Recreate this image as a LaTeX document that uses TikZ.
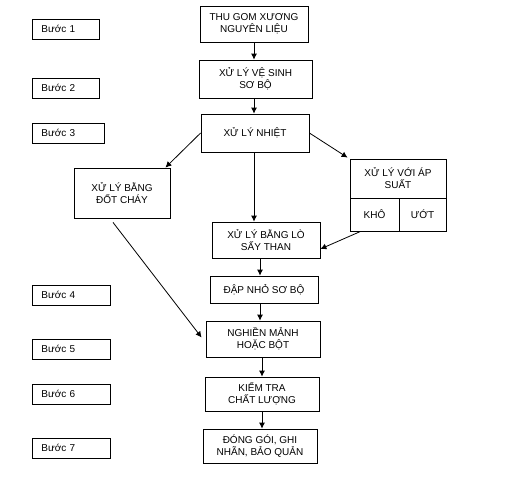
\documentclass[tikz,border=0pt]{standalone}
\usepackage{fontspec}
\setmainfont{Liberation Sans}
\usetikzlibrary{arrows.meta}

\begin{document}
\begin{tikzpicture}[x=1pt, y=-1pt, >={Latex[length=6pt,width=6pt]}]

\def\boxline{0.8pt};
\def\labelsepa{9pt};
\tikzset{stage box/.style={
    rectangle,
    draw,
    line width=\boxline,
    inner sep=0pt,
    align=center,
    font=\fontsize{10}{12}\selectfont
}};
\tikzset{step label/.style={
    stage box,
    anchor=north west,
    inner xsep=\labelsepa,
    align=left,
    minimum height=19.5pt
}};
\tikzset{flow/.style={->, line width=\boxline}};

\useasboundingbox (0,0) rectangle (505,485);

\foreach \i/\ty/\rx [evaluate=\rx as \tw using \rx-32-18] in {1/19/99, 2/78/99, 3/123/104, 4/285/110, 5/339/110, 6/384/110, 7/438/110} {
    \node[step label, text width=\tw pt] (step\i) at (32,\ty) {Bước \i};
}

\node[stage box, minimum width=108pt, minimum height=36pt] (collect) at (254,24) {THU GOM XƯƠNG\\NGUYÊN LIỆU};
\node[stage box, minimum width=113pt, minimum height=38pt] (clean) at (255.5,79) {XỬ LÝ VỆ SINH\\SƠ BỘ};
\node[stage box, minimum width=108pt, minimum height=38pt] (heat) at (255,133) {XỬ LÝ NHIỆT};
\node[stage box, minimum width=96pt, minimum height=50pt] (burn) at (122,193) {XỬ LÝ BẰNG\\ĐỐT CHÁY};
\node[stage box, minimum width=96pt, minimum height=39pt] (press) at (398,178.5) {XỬ LÝ VỚI ÁP\\SUẤT};
\node[stage box, minimum width=49pt, minimum height=33pt, text depth=-6pt] (dry) at (374.5,214.5) {KHÔ};
\node[stage box, minimum width=47pt, minimum height=33pt, text depth=-6pt] (wet) at (422.5,214.5) {ƯỚT};
\node[stage box, minimum width=108pt, minimum height=36pt] (kiln) at (266,240) {XỬ LÝ BẰNG LÒ\\SẤY THAN};
\node[stage box, minimum width=108pt, minimum height=27pt] (crush) at (264,289.5) {ĐẬP NHỎ SƠ BỘ};
\node[stage box, minimum width=114pt, minimum height=36pt] (grind) at (263,339) {NGHIỀN MẢNH\\HOẶC BỘT};
\node[stage box, minimum width=114pt, minimum height=34pt] (check) at (262,394) {KIỂM TRA\\CHẤT LƯỢNG};
\node[stage box, minimum width=114pt, minimum height=34pt] (pack) at (260,446) {ĐÓNG GÓI, GHI\\NHÃN, BẢO QUẢN};

\foreach \a/\b/\dx in {collect/clean/0, clean/heat/-1.5, heat/kiln/-1, kiln/crush/-6, crush/grind/-4, grind/check/-1, check/pack/0} {
    \draw[flow] ([xshift=\dx pt]\a.south) -- ([xshift=\dx pt]\a.south |- \b.north);
}

\draw[flow] (heat.west) -- ([xshift=-5pt]burn.north east);
\draw[flow] (heat.east) -- ([xshift=-2pt,yshift=1pt]press.north west);
\draw[flow] ([xshift=11pt]dry.south west) -- ([yshift=-9pt]kiln.east);
\draw[flow] ([xshift=-9pt,yshift=-4pt]burn.south) -- ([xshift=-4pt,yshift=1.5pt]grind.west);
\end{tikzpicture}
\end{document}
